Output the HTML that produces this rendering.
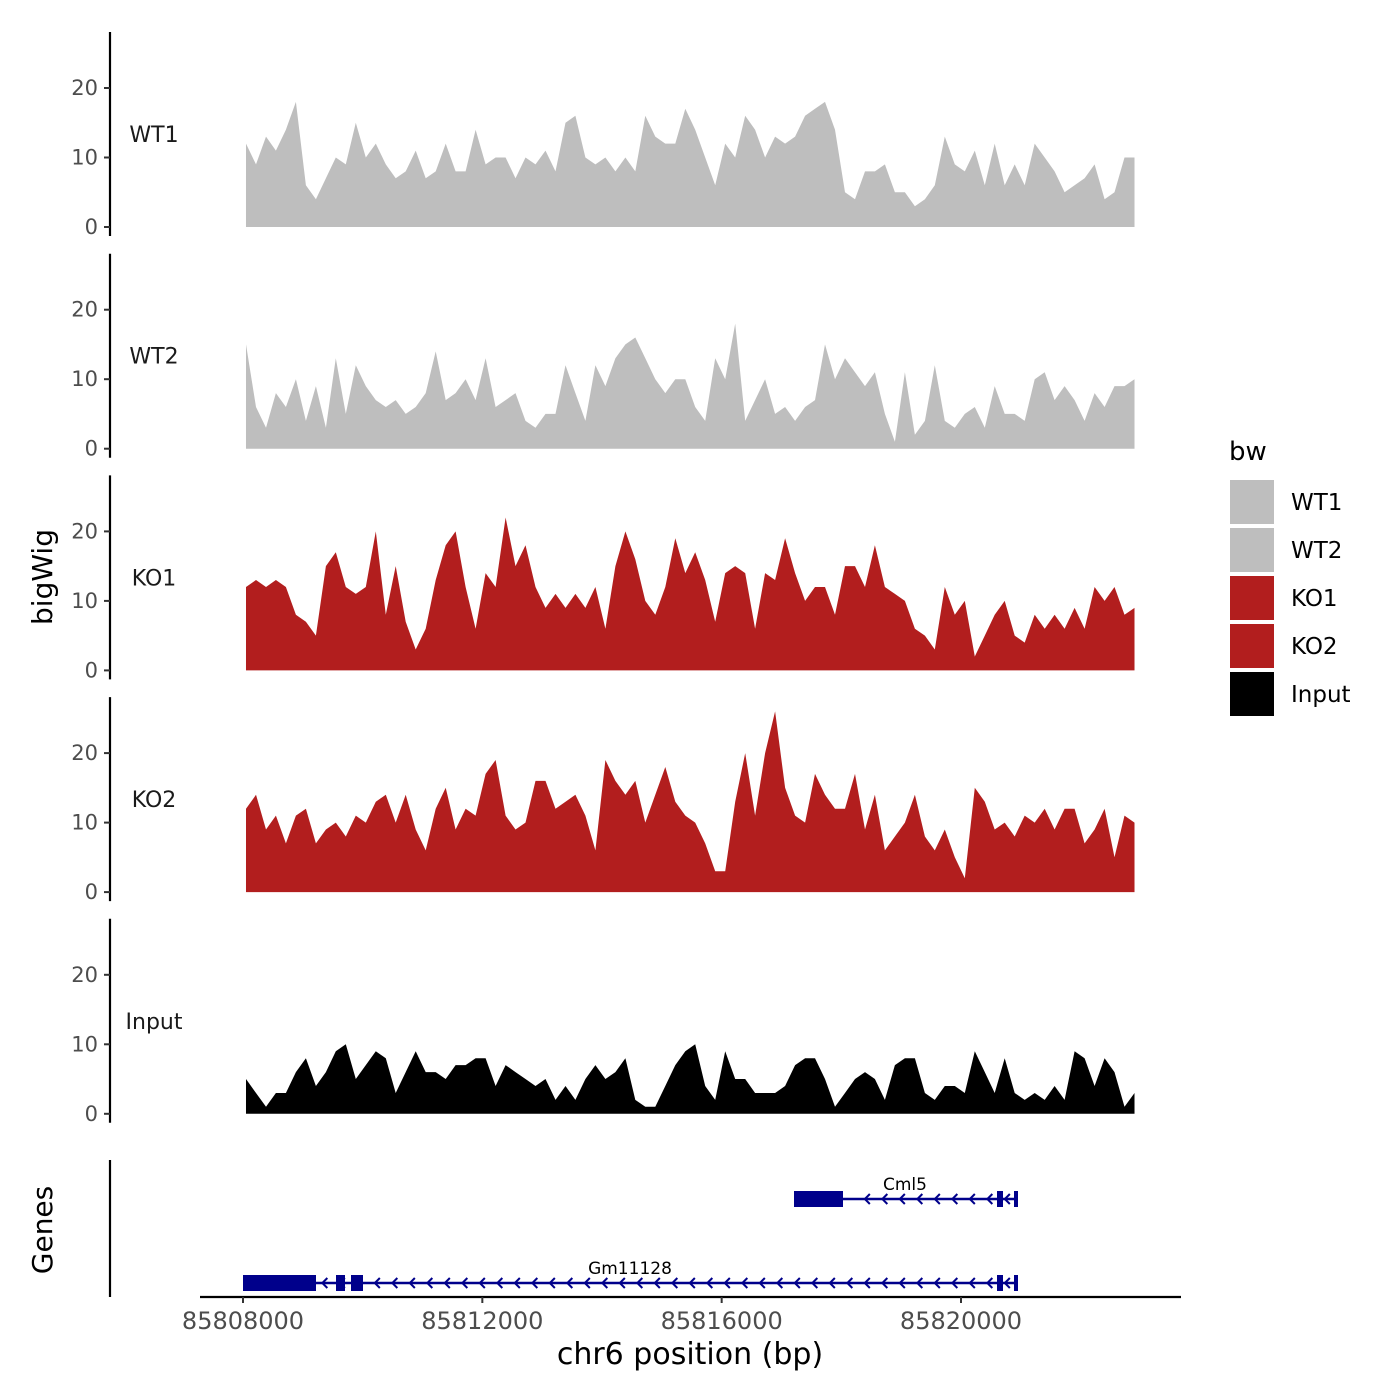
<!DOCTYPE html>
<html><head><meta charset="utf-8"><style>
html,body{margin:0;padding:0;background:#fff;}
svg{display:block;font-family:"DejaVu Sans","Liberation Sans",sans-serif;}
</style></head><body>
<svg id="chart" width="1400" height="1400" viewBox="0 0 1400 1400" xmlns="http://www.w3.org/2000/svg"></svg>
<script>
const trackNames = ["WT1","WT2","KO1","KO2","Input"];
const trackColors = ["#bebebe","#bebebe","#b21e1e","#b21e1e","#000000"];
const yTicks = [0,10,20];
const xTickValues = [85808000,85812000,85816000,85820000];
const xTickLabels = ["85808000","85812000","85816000","85820000"];
const wt1 = [12,9,13,11,14,18,6,4,7,10,9,15,10,12,9,7,8,11,7,8,12,8,8,14,9,10,10,7,10,9,11,8,15,16,10,9,10,8,10,8,16,13,12,12,17,14,10,6,12,10,16,14,10,13,12,13,16,17,18,14,5,4,8,8,9,5,5,3,4,6,13,9,8,11,6,12,6,9,6,12,10,8,5,6,7,9,4,5,10,10];
const wt2 = [15,6,3,8,6,10,4,9,3,13,5,12,9,7,6,7,5,6,8,14,7,8,10,7,13,6,7,8,4,3,5,5,12,8,4,12,9,13,15,16,13,10,8,10,10,6,4,13,10,18,4,7,10,5,6,4,6,7,15,10,13,11,9,11,5,1,11,2,4,12,4,3,5,6,3,9,5,5,4,10,11,7,9,7,4,8,6,9,9,10];
const ko1 = [12,13,12,13,12,8,7,5,15,17,12,11,12,20,8,15,7,3,6,13,18,20,12,6,14,12,22,15,18,12,9,11,9,11,9,12,6,15,20,16,10,8,12,19,14,17,13,7,14,15,14,6,14,13,19,14,10,12,12,8,15,15,12,18,12,11,10,6,5,3,12,8,10,2,5,8,10,5,4,8,6,8,6,9,6,12,10,12,8,9];
const ko2 = [12,14,9,11,7,11,12,7,9,10,8,11,10,13,14,10,14,9,6,12,15,9,12,11,17,19,11,9,10,16,16,12,13,14,11,6,19,16,14,16,10,14,18,13,11,10,7,3,3,13,20,11,20,26,15,11,10,17,14,12,12,17,9,14,6,8,10,14,8,6,9,5,2,15,13,9,10,8,11,10,12,9,12,12,7,9,12,5,11,10];
const input = [5,3,1,3,3,6,8,4,6,9,10,5,7,9,8,3,6,9,6,6,5,7,7,8,8,4,7,6,5,4,5,2,4,2,5,7,5,6,8,2,1,1,4,7,9,10,4,2,9,5,5,3,3,3,4,7,8,8,5,1,3,5,6,5,2,7,8,8,3,2,4,4,3,9,6,3,8,3,2,3,2,4,2,9,8,4,8,6,1,3];
const trackValues = [wt1,wt2,ko1,ko2,input];
const dataStart = 85808050, dataEnd = 85822900;
const geneNames = ["Cml5","Gm11128"];
const geneStarts = [85817250,85808000];
const geneEnds = [85820950,85820950];

const NS="http://www.w3.org/2000/svg";
const svg=document.getElementById('chart');
function mk(tag,attrs,parent){const e=document.createElementNS(NS,tag);for(const k in attrs)e.setAttribute(k,attrs[k]);(parent||svg).appendChild(e);return e;}
const xScale=bp=>243+(bp-85808000)*(961-243)/12000;
const pxPerUnit=6.95;
const zeroY=i=>227+i*221.7;

trackNames.forEach((name,t)=>{
  const g=mk('g',{});
  
  
  const z=zeroY(t);
  const vals=trackValues[t];
  const n=vals.length;
  let d='M'+xScale(dataStart)+','+z;
  vals.forEach((v,i)=>{const bp=dataStart+(dataEnd-dataStart)*i/(n-1);d+=' L'+xScale(bp).toFixed(1)+','+(z-v*pxPerUnit).toFixed(1);});
  d+=' L'+xScale(dataEnd)+','+z+' Z';
  const a=mk('path',{d:d,fill:trackColors[t]},g);
  
  
  const ax=mk('line',{x1:110,x2:110,y1:z-195,y2:z+9,stroke:'#000','stroke-width':2.2},g);
  
  
  yTicks.forEach(tv=>{
    const y=z-tv*pxPerUnit;
    mk('line',{x1:104,x2:110,y1:y,y2:y,stroke:'#333','stroke-width':2},g);
    const tx=mk('text',{x:98,y:y+7,'text-anchor':'end','font-size':21,fill:'#4d4d4d'},g);
    tx.textContent=tv;
    
    
  });
  const lb=mk('text',{x:154,y:z-85,'text-anchor':'middle','font-size':22,fill:'#1a1a1a'},g);
  lb.textContent=name;
  
  
});

const yt=mk('text',{x:0,y:0,'text-anchor':'middle','font-size':28,transform:'translate(52,577) rotate(-90)'});
yt.textContent='bigWig';


const gt=mk('text',{x:0,y:0,'text-anchor':'middle','font-size':28,transform:'translate(52,1230) rotate(-90)'});
gt.textContent='Genes';



const gl=mk('line',{x1:110,x2:110,y1:1160,y2:1297,stroke:'#000','stroke-width':2.2});


const xl=mk('line',{x1:200,x2:1181,y1:1297,y2:1297,stroke:'#000','stroke-width':2.2});


xTickValues.forEach((v,i)=>{
  const x=xScale(v);
  mk('line',{x1:x,x2:x,y1:1297,y2:1303,stroke:'#333','stroke-width':2});
  const t=mk('text',{x:x,y:1329,'text-anchor':'middle','font-size':24,fill:'#4d4d4d'});
  t.textContent=xTickLabels[i];
  
  
});
const xt=mk('text',{x:690,y:1364,'text-anchor':'middle','font-size':30});
xt.textContent='chr6 position (bp)';



const geneY=[1199,1283];
const labelX=[905,630];
const blue='#00008b';
geneNames.forEach((gn,k)=>{
  const g=mk('g',{});
  
  
  const y=geneY[k];
  const x0=xScale(geneStarts[k]), x1=xScale(geneEnds[k]);
  mk('line',{x1:x0,x2:x1,y1:y,y2:y,stroke:blue,'stroke-width':2.5},g);
  for(let x=x1-12;x>x0+60;x-=17.5){mk('polyline',{points:(x+4)+','+(y-5)+' '+(x-1)+','+y+' '+(x+4)+','+(y+5),fill:'none',stroke:blue,'stroke-width':2},g);}
  const boxes=k===0?[[794,843,16],[997,1003,16],[1014,1018,16]]:[[243,316,16],[336,345,16],[351,363,16],[997,1003,16],[1014,1018,16]];
  boxes.forEach(b=>mk('rect',{x:b[0],y:y-b[2]/2,width:b[1]-b[0],height:b[2],fill:blue},g));
  const t=mk('text',{x:labelX[k],y:y-9,'text-anchor':'middle','font-size':17,fill:'#000'},g);
  t.textContent=gn;
  
  
});

const lg=mk('g',{});


const lt=mk('text',{x:1229,y:460,'font-size':26},lg);
lt.textContent='bw';
trackNames.forEach((n,i)=>{
  const e=mk('g',{},lg);
  
  
  mk('rect',{x:1230,y:480+i*48,width:44,height:44,fill:trackColors[i]},e);
  const t=mk('text',{x:1291,y:510+i*48,'font-size':23},e);
  t.textContent=n;
});
</script>
</body></html>
